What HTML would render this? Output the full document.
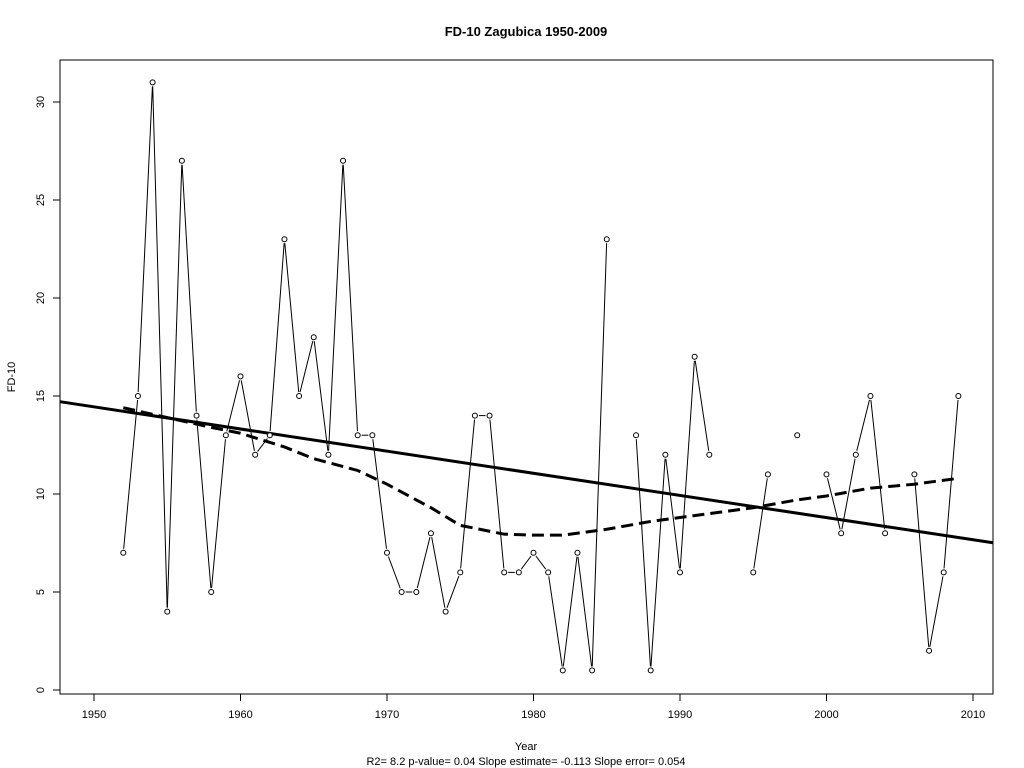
<!DOCTYPE html>
<html><head><meta charset="utf-8"><style>
html,body{margin:0;padding:0;background:#fff;}
svg{display:block;font-family:"Liberation Sans",Arial,sans-serif;}
</style></head><body>
<svg id="chart" width="1024" height="768" viewBox="0 0 1024 768" xmlns="http://www.w3.org/2000/svg">
<rect width="1024" height="768" fill="#fff"/>
<text x="526" y="36" text-anchor="middle" font-size="13" font-weight="bold">FD-10   Zagubica 1950-2009</text>
<rect x="60" y="60" width="933" height="634" fill="none" stroke="#000" stroke-width="1"/>
<g id="xaxis"></g>
<g id="yaxis"></g>
<text x="526" y="750" text-anchor="middle" font-size="11">Year</text>
<text transform="translate(15,377) rotate(-90)" text-anchor="middle" font-size="11">FD-10</text>
<text x="526" y="765" text-anchor="middle" font-size="11">R2= 8.2  p-value= 0.04  Slope estimate= -0.113  Slope error= 0.054</text>
<g id="series"></g>
</svg>
<script>
const years=[1952,1953,1954,1955,1956,1957,1958,1959,1960,1961,1962,1963,1964,1965,1966,1967,1968,1969,1970,1971,1972,1973,1974,1975,1976,1977,1978,1979,1980,1981,1982,1983,1984,1985,1986,1987,1988,1989,1990,1991,1992,1993,1994,1995,1996,1997,1998,1999,2000,2001,2002,2003,2004,2005,2006,2007,2008,2009];
const values=[7,15,31,4,27,14,5,13,16,12,13,23,15,18,12,27,13,13,7,5,5,8,4,6,14,14,6,6,7,6,1,7,1,23,null,13,1,12,6,17,12,null,null,6,11,null,13,null,11,8,12,15,8,null,11,2,6,15];
const loessYears=[1952,1955,1958,1960,1963,1965,1968,1970,1973,1975,1978,1980,1982,1985,1988,1990,1993,1995,1998,2000,2003,2006,2009];
const loessValues=[14.4,13.9,13.4,13.1,12.4,11.8,11.2,10.5,9.3,8.4,7.95,7.9,7.9,8.2,8.6,8.8,9.1,9.3,9.7,9.9,10.3,10.5,10.8];
const trendIntercept1950=14.45, trendSlope=-0.113;
const xTicks=[1950,1960,1970,1980,1990,2000,2010];
const yTicks=[0,5,10,15,20,25,30];

const X=y=>94+(y-1950)*(879/60);
const Y=v=>690-v*(588/30);
const NS="http://www.w3.org/2000/svg";
function mk(tag,attrs,parent){const e=document.createElementNS(NS,tag);for(const k in attrs)e.setAttribute(k,attrs[k]);parent.appendChild(e);return e;}
const xa=document.getElementById('xaxis'),ya=document.getElementById('yaxis'),se=document.getElementById('series');
xTicks.forEach(t=>{
  const l=mk('line',{x1:X(t),x2:X(t),y1:694,y2:701,stroke:'#000'},xa);
  
  
  const tx=mk('text',{x:X(t),y:718,'text-anchor':'middle','font-size':11},xa);tx.textContent=t;
  
  
});
yTicks.forEach(t=>{
  const l=mk('line',{x1:53,x2:60,y1:Y(t),y2:Y(t),stroke:'#000'},ya);
  
  
  const tx=mk('text',{transform:`translate(44,${Y(t)}) rotate(-90)`,'text-anchor':'middle','font-size':11},ya);tx.textContent=t;
  
  
});
// connecting lines
for(let i=1;i<years.length;i++){
  if(values[i]==null||values[i-1]==null)continue;
  const x1=X(years[i-1]),y1=Y(values[i-1]),x2=X(years[i]),y2=Y(values[i]);
  const dx=x2-x1,dy=y2-y1,d=Math.hypot(dx,dy);if(d<8)continue;
  const g=4/d;
  const l=mk('line',{x1:x1+dx*g,y1:y1+dy*g,x2:x2-dx*g,y2:y2-dy*g,stroke:'#000','stroke-width':1},se);
  
  
}
// trend line
const tl=mk('line',{x1:60,y1:Y(trendIntercept1950+trendSlope*(1947.7-1950)),x2:993,y2:Y(trendIntercept1950+trendSlope*(2011.4-1950)),stroke:'#000','stroke-width':3},se);


// loess
const lp=mk('path',{d:loessYears.map((y,i)=>(i?'L':'M')+X(y)+','+Y(loessValues[i])).join(' '),fill:'none',stroke:'#000','stroke-width':3,'stroke-dasharray':'12,6'},se);


// points
years.forEach((y,i)=>{
  if(values[i]==null)return;
  const c=mk('circle',{cx:X(y),cy:Y(values[i]),r:2.5,fill:'#fff',stroke:'#000','stroke-width':1},se);
  
  
});
</script>
</body></html>
